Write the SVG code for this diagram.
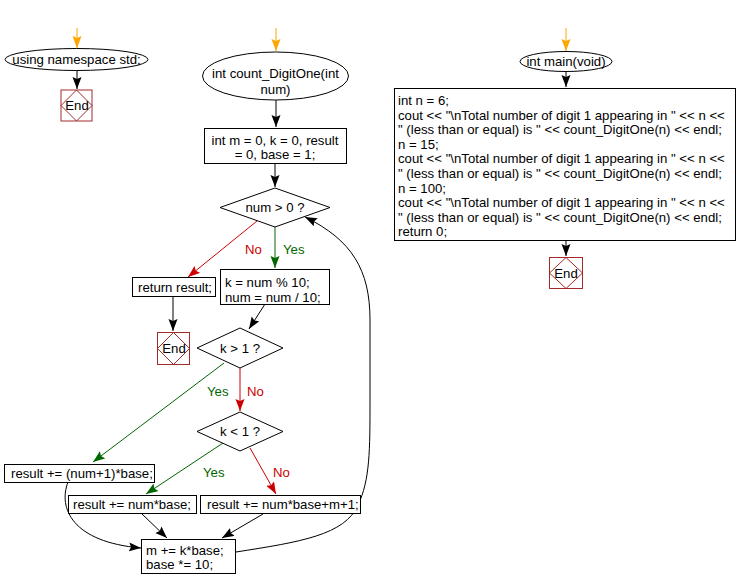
<svg xmlns="http://www.w3.org/2000/svg" width="738" height="588" viewBox="0 0 738 588">
<style>
text{font-family:"Liberation Sans",Arial,sans-serif;font-size:13.2px;fill:#000}
.c{text-anchor:middle}
.box{fill:#fff;stroke:#000;stroke-width:1}
.end{fill:#fff;stroke:#a52a2a;stroke-width:1}
.endd{fill:none;stroke:#a52a2a;stroke-width:1}
.ln{fill:none;stroke:#000;stroke-width:1}
.or{fill:none;stroke:#ffa500;stroke-width:1}
.rd{fill:none;stroke:#cc0000;stroke-width:1}
.gr{fill:none;stroke:#006600;stroke-width:1}
.lr{fill:#cc0000}
.lg{fill:#006600}
.ws{word-spacing:1.5px}
</style>
<defs>
<marker id="ab" markerUnits="userSpaceOnUse" markerWidth="14" markerHeight="10" refX="12" refY="4.5" orient="auto"><path d="M0,0 L12,4.5 L0,9 L2,4.5 z" fill="#000"/></marker>
<marker id="ao" markerUnits="userSpaceOnUse" markerWidth="14" markerHeight="10" refX="12" refY="4.5" orient="auto"><path d="M0,0 L12,4.5 L0,9 L2,4.5 z" fill="#ffa500"/></marker>
<marker id="ar" markerUnits="userSpaceOnUse" markerWidth="14" markerHeight="10" refX="12" refY="4.5" orient="auto"><path d="M0,0 L12,4.5 L0,9 L2,4.5 z" fill="#cc0000"/></marker>
<marker id="ag" markerUnits="userSpaceOnUse" markerWidth="14" markerHeight="10" refX="12" refY="4.5" orient="auto"><path d="M0,0 L12,4.5 L0,9 L2,4.5 z" fill="#006600"/></marker>
</defs>

<g id="connectors">
<line class="or" x1="77" y1="28" x2="77" y2="48" marker-end="url(#ao)"/>
<line class="ln" x1="77" y1="70" x2="77" y2="89" marker-end="url(#ab)"/>
<line class="or" x1="276" y1="28" x2="276" y2="51" marker-end="url(#ao)"/>
<line class="ln" x1="276" y1="100" x2="276" y2="127" marker-end="url(#ab)"/>
<line class="ln" x1="275" y1="163" x2="275" y2="187" marker-end="url(#ab)"/>
<line class="rd" x1="257" y1="221" x2="188" y2="277" marker-end="url(#ar)"/>
<line class="gr" x1="275" y1="227" x2="275" y2="268" marker-end="url(#ag)"/>
<line class="ln" x1="173" y1="296" x2="173" y2="331" marker-end="url(#ab)"/>
<line class="ln" x1="265" y1="304" x2="249" y2="329" marker-end="url(#ab)"/>
<line class="gr" x1="224" y1="363" x2="93" y2="462" marker-end="url(#ag)"/>
<line class="rd" x1="240" y1="368" x2="240" y2="411" marker-end="url(#ar)"/>
<line class="gr" x1="223" y1="443" x2="146" y2="494" marker-end="url(#ag)"/>
<line class="rd" x1="250" y1="448" x2="276" y2="494" marker-end="url(#ar)"/>
<line class="ln" x1="142" y1="514" x2="167" y2="538" marker-end="url(#ab)"/>
<line class="ln" x1="263" y1="514" x2="222" y2="538" marker-end="url(#ab)"/>
<path class="ln" d="M68,482 C58,508 72,542 141,548" marker-end="url(#ab)"/>
<path class="ln" d="M236,552 C300,542 345,535 358,505 C370,480 370,450 370,400 L370,320 C370,270 352,240 305,217" marker-end="url(#ab)"/>
<line class="or" x1="566" y1="28" x2="566" y2="51" marker-end="url(#ao)"/>
<line class="ln" x1="566" y1="72" x2="566" y2="87" marker-end="url(#ab)"/>
<line class="ln" x1="566" y1="241" x2="566" y2="256" marker-end="url(#ab)"/>
</g>

<g id="labels">
<text class="lr" x="245" y="254">No</text>
<text class="lg" x="283" y="254">Yes</text>
<text class="lg" x="207" y="396">Yes</text>
<text class="lr" x="247" y="396">No</text>
<text class="lg" x="203" y="477">Yes</text>
<text class="lr" x="273" y="477">No</text>
</g>

<g id="ns">
<ellipse class="box" cx="76.5" cy="59.5" rx="71.5" ry="11"/>
<text class="c" x="76.5" y="64">using namespace std;</text>
</g>
<g id="end1">
<rect class="end" x="61" y="90" width="31" height="31"/>
<path class="endd" d="M76.5,90 L92,105.5 L76.5,121 L61,105.5 z"/>
<text class="c" x="77" y="110">End</text>
</g>

<g id="func">
<ellipse class="box" cx="275.5" cy="76" rx="73" ry="24"/>
<text class="c" x="275.5" y="78">int count_DigitOne(int</text>
<text class="c" x="275.5" y="94">num)</text>
</g>
<g id="init">
<rect class="box" x="204.5" y="128.5" width="142" height="35"/>
<text class="c" x="275" y="145">int m = 0, k = 0, result</text>
<text class="c" x="275" y="159">= 0, base = 1;</text>
</g>
<g id="cond1">
<path class="box" d="M275,188 L330,207.5 L275,227 L220,207.5 z"/>
<text class="c" x="275" y="212">num &gt; 0 ?</text>
</g>
<g id="ret">
<rect class="box" x="132.5" y="277.5" width="83" height="19"/>
<text x="138" y="292">return result;</text>
</g>
<g id="end2">
<rect class="end" x="157.5" y="332.5" width="32" height="32"/>
<path class="endd" d="M173.5,332.5 L189.5,348.5 L173.5,364.5 L157.5,348.5 z"/>
<text class="c" x="174" y="353">End</text>
</g>
<g id="knum">
<rect class="box" x="220.5" y="269.5" width="109" height="35"/>
<text x="225" y="287">k = num % 10;</text>
<text x="225" y="302">num = num / 10;</text>
</g>
<g id="cond2">
<path class="box" d="M240,328 L283,348 L240,368 L197,348 z"/>
<text class="c" x="240" y="353">k &gt; 1 ?</text>
</g>
<g id="cond3">
<path class="box" d="M240,412 L283,431.5 L240,451 L197,431.5 z"/>
<text class="c" x="240" y="436">k &lt; 1 ?</text>
</g>
<g id="r1">
<rect class="box" x="4.5" y="464.5" width="150" height="18"/>
<text x="11" y="478">result += (num+1)*base;</text>
</g>
<g id="r2">
<rect class="box" x="68.5" y="495.5" width="128" height="18"/>
<text x="73" y="509">result += num*base;</text>
</g>
<g id="r3">
<rect class="box" x="200.5" y="495.5" width="160" height="18"/>
<text x="207" y="509">result += num*base+m+1;</text>
</g>
<g id="mk">
<rect class="box" x="141.5" y="539.5" width="94" height="34"/>
<text x="146" y="555">m += k*base;</text>
<text x="146" y="569">base *= 10;</text>
</g>

<g id="main">
<ellipse class="box" cx="566" cy="61.5" rx="46" ry="10"/>
<text class="c" x="566" y="66">int main(void)</text>
</g>
<g id="mainbody">
<rect class="box" x="394.5" y="88.5" width="341" height="152"/>
<text x="398" y="105">int n = 6;</text>
<text x="398" y="119.6">cout &lt;&lt; "\nTotal number of digit 1 appearing in " &lt;&lt; n &lt;&lt;</text>
<text x="398" y="134.2">" (less than or equal) is " &lt;&lt; count_DigitOne(n) &lt;&lt; endl;</text>
<text x="398" y="148.8">n = 15;</text>
<text x="398" y="163.4">cout &lt;&lt; "\nTotal number of digit 1 appearing in " &lt;&lt; n &lt;&lt;</text>
<text x="398" y="178">" (less than or equal) is " &lt;&lt; count_DigitOne(n) &lt;&lt; endl;</text>
<text x="398" y="192.6">n = 100;</text>
<text x="398" y="207.2">cout &lt;&lt; "\nTotal number of digit 1 appearing in " &lt;&lt; n &lt;&lt;</text>
<text x="398" y="221.8">" (less than or equal) is " &lt;&lt; count_DigitOne(n) &lt;&lt; endl;</text>
<text x="398" y="236.4">return 0;</text>
</g>
<g id="end3">
<rect class="end" x="549.5" y="257.5" width="33" height="31"/>
<path class="endd" d="M566,257.5 L582.5,273 L566,288.5 L549.5,273 z"/>
<text class="c" x="566" y="278">End</text>
</g>
</svg>
